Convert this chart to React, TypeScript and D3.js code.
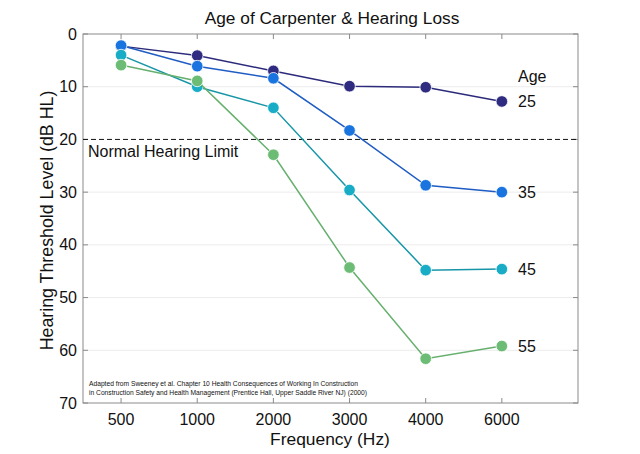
import React from "react";
import * as d3 from "d3";

const frequencies = ["500", "1000", "2000", "3000", "4000", "6000"];
const ages = ["25", "35", "45", "55"];
const age25 = [2.3, 4.1, 7.0, 9.9, 10.1, 12.8];
const age35 = [2.2, 6.1, 8.4, 18.3, 28.7, 30.0];
const age45 = [4.0, 10.0, 14.0, 29.6, 44.8, 44.6];
const age55 = [5.9, 8.9, 22.9, 44.3, 61.6, 59.2];
const seriesValues = [age25, age35, age45, age55];
const lineColors = ["#2c2a7a", "#1f5cc4", "#1796a8", "#66b06e"];
const markerColors = ["#2e2b80", "#1a74e0", "#19acc6", "#6cbc76"];
const yTicks = [0, 10, 20, 30, 40, 50, 60, 70];
const normalLimit = 20;
const title = "Age of Carpenter & Hearing Loss";
const xLabel = "Frequency (Hz)";
const yLabel = "Hearing Threshold Level (dB HL)";
const footnote = [
  "Adapted from Sweeney et al. Chapter 10 Health Consequences of Working In Construction",
  "in Construction Safety and Health Management (Prentice Hall, Upper Saddle River NJ) (2000)",
];

const W = 640, H = 454;
const L = 83, R = 578, T = 34, B = 403;
const font = "Helvetica, Arial, 'Liberation Sans', sans-serif";

export default function App() {
  const x = d3.scaleLinear().domain([0.5, 7]).range([L, R]);
  const y = d3.scaleLinear().domain([0, 70]).range([T, B]);
  const line = d3.line<number>().x((_, i) => x(i + 1)).y((d) => y(d));
  return (
    <svg width={W} height={H} style={{ position: "absolute", left: 0, top: 0, background: "#fff" }} fontFamily={font}>
      <rect x={0} y={0} width={W} height={H} fill="#fff" />
      {yTicks.filter((t) => t !== 0 && t !== 70 && t !== normalLimit).map((t) => (
        <line key={"g" + t} x1={L} x2={R} y1={y(t)} y2={y(t)} stroke="#ececec" strokeWidth={1} />
      ))}
      <rect x={L} y={T} width={R - L} height={B - T} fill="none" stroke="#8a8a8a" strokeWidth={1} />
      {yTicks.map((t) => (
        <g key={"y" + t}>
          <line x1={L} x2={L + 5} y1={y(t)} y2={y(t)} stroke="#8a8a8a" />
          <line x1={R - 5} x2={R} y1={y(t)} y2={y(t)} stroke="#8a8a8a" />
          <text x={L - 6} y={y(t)} dy="0.35em" textAnchor="end" fontSize={16} fill="#111">{t}</text>
        </g>
      ))}
      {frequencies.map((f, i) => (
        <g key={"x" + f}>
          <line x1={x(i + 1)} x2={x(i + 1)} y1={T} y2={T + 5} stroke="#8a8a8a" />
          <line x1={x(i + 1)} x2={x(i + 1)} y1={B - 5} y2={B} stroke="#8a8a8a" />
          <text x={x(i + 1)} y={425} textAnchor="middle" fontSize={16} fill="#111">{f}</text>
        </g>
      ))}
      <line x1={L} x2={R} y1={y(normalLimit)} y2={y(normalLimit)} stroke="#111" strokeWidth={1} strokeDasharray="5,3" />
      <text x={88} y={157} fontSize={16} fill="#111">Normal Hearing Limit</text>
      {seriesValues.map((vals, s) => (
        <g key={"s" + s}>
          <path d={line(vals) || ""} fill="none" stroke={lineColors[s]} strokeWidth={1.5} />
          {vals.map((v, i) => (
            <circle key={i} cx={x(i + 1)} cy={y(v)} r={5.8} fill={markerColors[s]} stroke="#fff" strokeWidth={0.8} />
          ))}
          <text x={518} y={y(vals[vals.length - 1])} dy="0.35em" fontSize={16} fill="#111">{ages[s]}</text>
        </g>
      ))}
      <text x={518} y={82} fontSize={16} fill="#111">Age</text>
      <text x={332} y={24} textAnchor="middle" fontSize={17.3} fill="#111">{title}</text>
      <text x={330} y={445} textAnchor="middle" fontSize={17.4} fill="#111">{xLabel}</text>
      <text transform={`translate(53, ${(T + B) / 2 + 2}) rotate(-90)`} textAnchor="middle" fontSize={17.8} fill="#111">{yLabel}</text>
      {footnote.map((t, i) => (
        <text key={i} x={89} y={386 + i * 9} fontSize={6.7} fill="#111">{t}</text>
      ))}
    </svg>
  );
}
